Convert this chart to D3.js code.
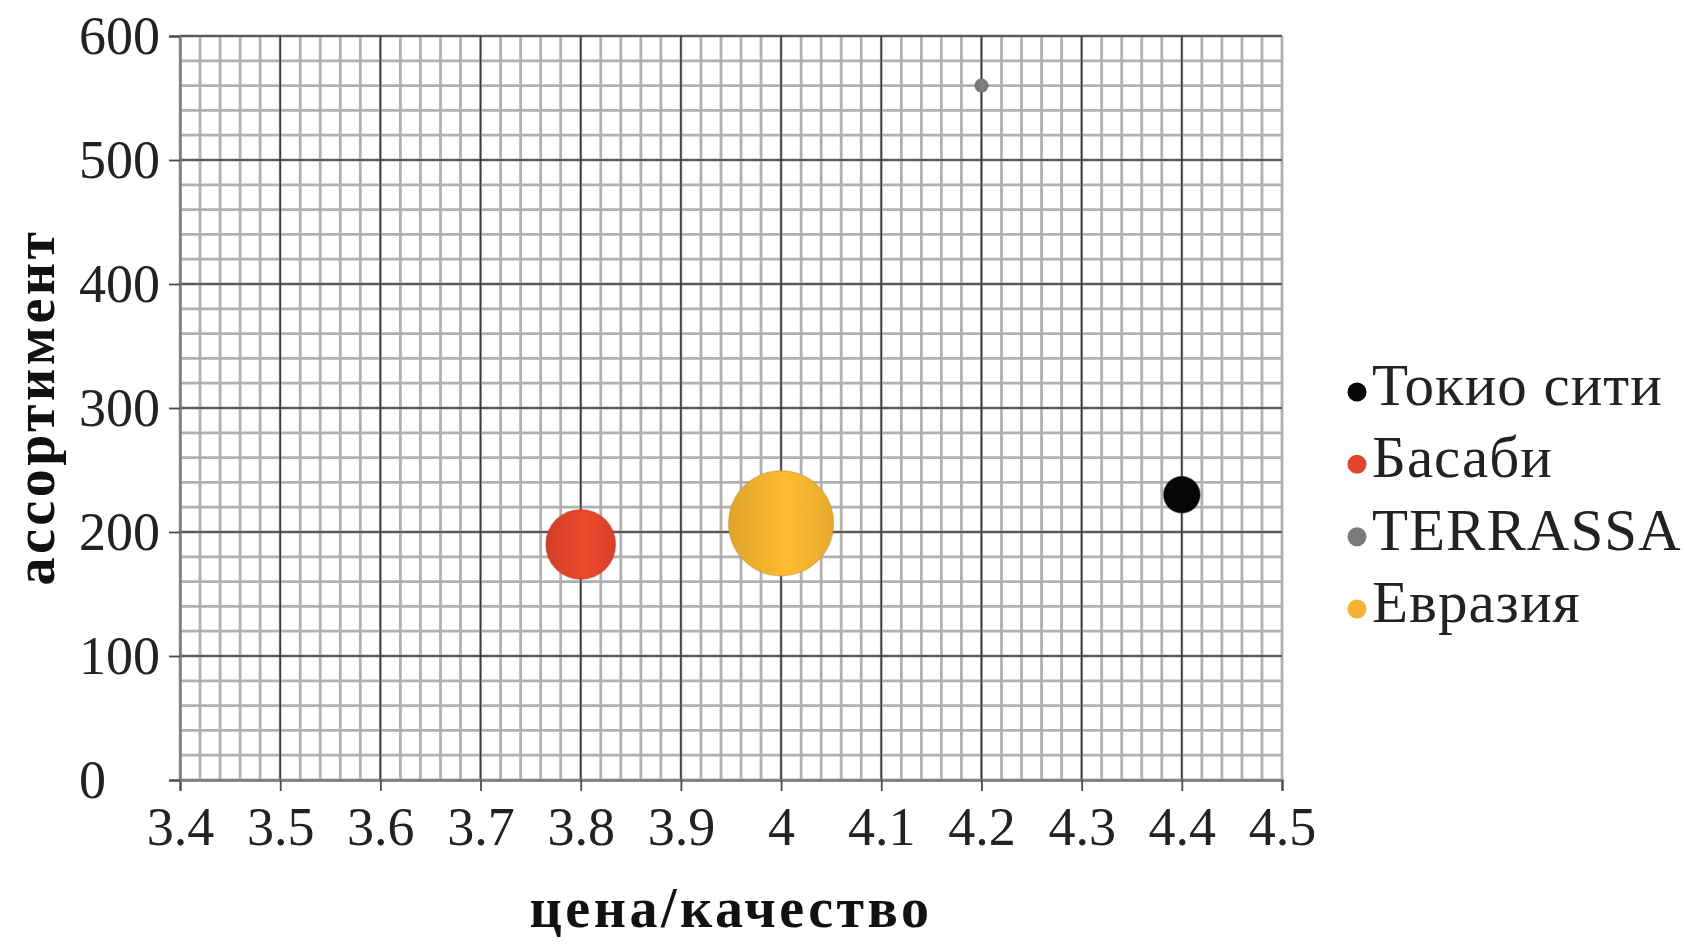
<!DOCTYPE html>
<html><head><meta charset="utf-8">
<script src="https://cdn.jsdelivr.net/npm/d3@7"></script>
<style>html,body{margin:0;padding:0;background:#fff;}svg{display:block;}</style>
</head><body>
<svg id="c" width="1685" height="946"></svg>
<script>
const names = ["Токио сити", "Басаби", "TERRASSA", "Евразия"];
const priceQuality = [4.4, 3.8, 4.2, 4.0];
const assortment = [230, 190, 560, 207];
const bubbleSize = [12, 44, 1.6, 100];
const colors = ["#050505", "#e2452b", "#7a7a7a", "#f3b22f"];
const xTicks = [3.4, 3.5, 3.6, 3.7, 3.8, 3.9, 4.0, 4.1, 4.2, 4.3, 4.4, 4.5];
const yTicks = [0, 100, 200, 300, 400, 500, 600];

const svg = d3.select("#c");
const L = 180, R = 1282, T = 36, B = 780;
const x = d3.scaleLinear().domain([3.4, 4.5]).range([L, R]);
const y = d3.scaleLinear().domain([0, 600]).range([B, T]);
const r = d3.scaleSqrt().domain([0, 100]).range([0, 52.5]);
const font = "'Liberation Serif', 'DejaVu Serif', serif";

const defs = svg.append("defs");
colors.forEach((c, i) => {
  const g = defs.append("linearGradient").attr("id", "g" + i)
    .attr("x1", "0%").attr("x2", "100%").attr("y1", "0%").attr("y2", "0%");
  const base = d3.color(c);
  g.append("stop").attr("offset", "0%").attr("stop-color", base.darker(0.25));
  g.append("stop").attr("offset", "55%").attr("stop-color", base.brighter(0.15));
  g.append("stop").attr("offset", "100%").attr("stop-color", base.darker(0.15));
});

// minor grid
const gMinor = svg.append("g");
const xMinor = d3.range(0, 56).map(i => 3.4 + i * 0.02).filter(v => v <= 4.5001);
const yMinor = d3.range(0, 31).map(i => i * 20);
gMinor.selectAll("line.vx").data(xMinor).join("line")
  .attr("x1", d => x(d)).attr("x2", d => x(d)).attr("y1", T).attr("y2", B)
  .attr("stroke", "#b0b0b0").attr("stroke-width", 2.8);
gMinor.selectAll("line.hy").data(yMinor).join("line")
  .attr("y1", d => y(d)).attr("y2", d => y(d)).attr("x1", L).attr("x2", R)
  .attr("stroke", "#b0b0b0").attr("stroke-width", 2.8);

// major grid
const gMajor = svg.append("g");
gMajor.selectAll("line.vx").data(xTicks.slice(1, -1)).join("line")
  .attr("x1", d => x(d)).attr("x2", d => x(d)).attr("y1", T).attr("y2", B)
  .attr("stroke", "#3c3c3c").attr("stroke-width", 1.6);
gMajor.selectAll("line.hy").data(yTicks.slice(1)).join("line")
  .attr("y1", d => y(d)).attr("y2", d => y(d)).attr("x1", L).attr("x2", R)
  .attr("stroke", "#3c3c3c").attr("stroke-width", 1.6);

// axes
const xAxis = svg.append("g").attr("transform", `translate(0,${B})`)
  .call(d3.axisBottom(x).tickValues(xTicks).tickSize(11).tickPadding(16)
    .tickFormat(d => d3.format("")(+d.toFixed(1))));
const yAxis = svg.append("g").attr("transform", `translate(${L},0)`)
  .call(d3.axisLeft(y).tickValues(yTicks).tickSize(11).tickPadding(4));
[xAxis, yAxis].forEach(a => {
  a.select(".domain").attr("stroke", "#7a7a7a").attr("stroke-width", 2.4);
  a.selectAll(".tick line").attr("stroke", "#4a4a4a").attr("stroke-width", 1.8);
  a.selectAll("text").attr("font-family", font).attr("font-size", 54).attr("fill", "#222");
});
xAxis.selectAll(".tick text").attr("dy", "0.71em");
yAxis.selectAll(".tick text").attr("text-anchor", "start").attr("x", 79 - L);

// bubbles
const idx = d3.range(names.length).sort((a, b) => bubbleSize[b] - bubbleSize[a]);
svg.append("g").selectAll("circle").data(idx).join("circle")
  .attr("cx", i => x(priceQuality[i])).attr("cy", i => y(assortment[i]))
  .attr("r", i => r(bubbleSize[i]))
  .attr("fill", i => `url(#g${i})`)
  .attr("stroke", i => d3.color(colors[i]).darker(0.6)).attr("stroke-opacity", 0.5)
  .attr("stroke-width", 1.2);

// legend
const leg = svg.append("g");
const legY = d3.scaleLinear().domain([0, 3]).range([405, 622]);
names.forEach((n, i) => {
  leg.append("circle").attr("cx", 1357).attr("cy", legY(i) - 13).attr("r", 9.5)
    .attr("fill", colors[i]);
  leg.append("text").attr("x", 1372).attr("y", legY(i)).text(n)
    .attr("font-family", font).attr("font-size", 59).attr("letter-spacing", 1)
    .attr("fill", "#222");
});

// titles
svg.append("text").attr("x", 731).attr("y", 927).attr("text-anchor", "middle")
  .attr("font-family", font).attr("font-weight", "bold").attr("font-size", 56)
  .attr("letter-spacing", 3.5).attr("fill", "#111").text("цена/качество");
svg.append("text").attr("transform", `translate(54,407) rotate(-90)`)
  .attr("text-anchor", "middle")
  .attr("font-family", font).attr("font-weight", "bold").attr("font-size", 56)
  .attr("letter-spacing", 3.5).attr("fill", "#111").text("ассортимент");
</script>
</body></html>
